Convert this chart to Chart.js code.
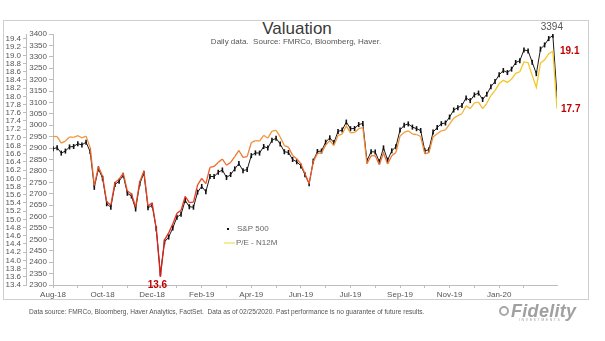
<!DOCTYPE html>
<html>
<head>
<meta charset="utf-8">
<title>Valuation</title>
<script src="https://cdn.jsdelivr.net/npm/chart.js@4.4.1/dist/chart.umd.min.js"></script>
<style>
  html, body { margin: 0; padding: 0; background: #fff; }
  body { width: 605px; height: 341px; position: relative; overflow: hidden;
         font-family: "Liberation Sans", Arial, sans-serif; }
  #frame { position: absolute; left: 3px; top: 20px; width: 586px; height: 280px;
           border: 1px solid #cfcfcf; box-sizing: border-box; }
  #chart { position: absolute; left: 0; top: 0; }
  .txt { position: absolute; white-space: pre; color: #555; }
  #title { left: 0; width: 594px; top: 20px; line-height: 18px; font-size: 17px;
           text-align: center; color: #3a3a3a; }
  #foot { left: 29px; top: 307px; line-height: 10px; font-size: 6.6px; }
  #logo { position: absolute; left: 497px; top: 301px; width: 100px; height: 24px; color: #a0a0a0; }
  #logo .ring { position: absolute; left: 2px; top: 5px; width: 10px; height: 10px;
                border: 2px solid #a8a8a8; border-radius: 50%; box-sizing: border-box; }
  #logo .name { position: absolute; left: 14px; top: 0; font-size: 18px; line-height: 20px;
                font-weight: bold; font-style: italic; letter-spacing: 0.3px; }
  #logo .sub { position: absolute; left: 22px; top: 17px; font-size: 3.5px; letter-spacing: 1.6px; }
</style>
</head>
<body>
<div id="frame"></div>
<div id="title" class="txt">Valuation</div>
<canvas id="chart" width="605" height="341"></canvas>
<div id="foot" class="txt">Data source: FMRCo, Bloomberg, Haver Analytics, FactSet.  Data as of 02/25/2020. Past performance is no guarantee of future results.</div>
<div id="logo"><div class="ring"></div><div class="name">Fidelity</div><div class="sub">INVESTMENTS</div></div>

<script>
// S&P 500 closes, sampled about every third trading day, 08/28/2018 - 02/25/2020
const spx = [
  2897, 2902, 2878, 2887, 2905, 2907, 2919, 2914, 2926, 2884,
  2728, 2809, 2768, 2656, 2641, 2740, 2755, 2781, 2702, 2690,
  2633, 2744, 2790, 2638, 2650, 2546, 2351, 2489, 2510, 2550,
  2597, 2610, 2671, 2643, 2641, 2707, 2732, 2709, 2776, 2775,
  2794, 2804, 2771, 2784, 2809, 2832, 2801, 2806, 2867, 2879,
  2878, 2907, 2900, 2934, 2943, 2918, 2884, 2881, 2850, 2840,
  2822, 2783, 2744, 2843, 2885, 2887, 2926, 2945, 2924, 2973,
  2979, 3014, 2985, 2986, 3003, 3008, 2845, 2884, 2883, 2840,
  2901, 2847, 2888, 2906, 2979, 3000, 3006, 2992, 2985, 2977,
  2888, 2893, 2970, 2990, 3007, 3010, 3036, 3067, 3077, 3087,
  3120, 3108, 3133, 3141, 3113, 3136, 3169, 3192, 3221, 3240,
  3231, 3246, 3275, 3283, 3330, 3326, 3276, 3226, 3334, 3352,
  3380, 3394, 3128
];

// forward 12-month P/E on the same days
const pe = [
  17.02, 17.02, 16.86, 16.91, 17.01, 17.00, 17.04, 16.99, 17.03, 16.75,
  15.83, 16.28, 16.05, 15.43, 15.35, 15.90, 15.98, 16.13, 15.69, 15.62,
  15.30, 15.92, 16.18, 15.33, 15.40, 14.77, 13.60, 14.50, 14.67, 14.89,
  15.15, 15.22, 15.56, 15.41, 15.42, 15.84, 16.00, 15.87, 16.27, 16.29,
  16.39, 16.47, 16.32, 16.39, 16.53, 16.68, 16.51, 16.53, 16.87, 16.92,
  16.91, 17.05, 16.98, 17.15, 17.17, 17.01, 16.80, 16.76, 16.56, 16.48,
  16.35, 16.11, 15.87, 16.40, 16.61, 16.62, 16.81, 16.92, 16.80, 17.05,
  17.08, 17.28, 17.11, 17.12, 17.21, 17.24, 16.36, 16.55, 16.55, 16.33,
  16.62, 16.35, 16.55, 16.63, 17.03, 17.12, 17.16, 17.08, 17.07, 17.02,
  16.60, 16.63, 17.01, 17.09, 17.16, 17.18, 17.32, 17.47, 17.53, 17.58,
  17.77, 17.70, 17.84, 17.86, 17.70, 17.83, 18.02, 18.14, 18.31, 18.39,
  18.34, 18.42, 18.56, 18.60, 18.84, 18.82, 18.51, 18.22, 18.81, 18.89,
  19.04, 19.10, 17.70
];

const xTickLabels = ['Aug-18', 'Oct-18', 'Dec-18', 'Feb-19', 'Apr-19', 'Jun-19', 'Jul-19', 'Sep-19', 'Nov-19', 'Jan-20'];
const spxTicks = [2300, 2350, 2400, 2450, 2500, 2550, 2600, 2650, 2700, 2750, 2800, 2850,
                  2900, 2950, 3000, 3050, 3100, 3150, 3200, 3250, 3300, 3350, 3400];
const peTicks = [13.4, 13.6, 13.8, 14.0, 14.2, 14.4, 14.6, 14.8, 15.0, 15.2, 15.4, 15.6, 15.8,
                 16.0, 16.2, 16.4, 16.6, 16.8, 17.0, 17.2, 17.4, 17.6, 17.8, 18.0, 18.2,
                 18.4, 18.6, 18.8, 19.0, 19.2, 19.4];

const subtitle = 'Daily data.  Source: FMRCo, Bloomberg, Haver.';

const STEP = 12;          // samples between month labels
const FONT = '"Liberation Sans", Arial, sans-serif';
const AXIS = '#bdbdbd';

// P/E line goes from red (cheap) through orange to yellow (rich)
const peStops = [
  [13.6, [222, 24, 28]], [15.5, [232, 56, 30]], [16.3, [238, 104, 42]],
  [17.0, [240, 150, 62]], [17.6, [242, 182, 56]], [18.3, [243, 200, 40]]
];
function peColor(v) {
  if (v <= peStops[0][0]) return 'rgb(' + peStops[0][1] + ')';
  for (let i = 1; i < peStops.length; i++) {
    const [v1, c1] = peStops[i];
    if (v <= v1) {
      const [v0, c0] = peStops[i - 1];
      const t = (v - v0) / (v1 - v0);
      const c = c0.map((a, k) => Math.round(a + (c1[k] - a) * t));
      return 'rgb(' + c + ')';
    }
  }
  return 'rgb(' + peStops[peStops.length - 1][1] + ')';
}

const spxPoints = spx.map((v, i) => ({ x: i, y: v }));
const pePoints = pe.map((v, i) => ({ x: i, y: v }));

// subtitle, value labels, legend inside the plot
const extras = {
  id: 'extras',
  afterDatasetsDraw(chart) {
    const { ctx, scales } = chart;
    const xs = scales.x, ys = scales.spx, yp = scales.pe;
    ctx.save();
    ctx.textBaseline = 'middle';

    ctx.font = '8px ' + FONT;
    ctx.fillStyle = '#555';
    ctx.textAlign = 'center';
    ctx.fillText(subtitle, 296, 42);

    const hi = spx.indexOf(Math.max(...spx));
    ctx.font = '10px ' + FONT;
    ctx.fillText(String(spx[hi]), xs.getPixelForValue(hi) - 1, ys.getPixelForValue(spx[hi]) - 8);

    ctx.font = 'bold 10px ' + FONT;
    ctx.fillStyle = '#c00000';
    const peHi = pe.indexOf(Math.max(...pe));
    const peLo = pe.indexOf(Math.min(...pe));
    const last = pe.length - 1;
    ctx.textAlign = 'left';
    ctx.fillText(pe[peHi].toFixed(1), xs.getPixelForValue(last) + 3, yp.getPixelForValue(pe[peHi]));
    ctx.fillText(pe[last].toFixed(1), xs.getPixelForValue(last) + 4, yp.getPixelForValue(pe[last]) + 1);
    ctx.textAlign = 'center';
    ctx.fillText(pe[peLo].toFixed(1), xs.getPixelForValue(peLo) - 3, yp.getPixelForValue(pe[peLo]) + 8);

    // legend
    const lx = 224, ly = 229;
    ctx.font = '8px ' + FONT;
    ctx.textAlign = 'left';
    ctx.fillStyle = '#111';
    ctx.fillRect(lx + 3, ly - 1, 2, 2);
    ctx.fillStyle = '#666';
    ctx.fillText(chart.data.datasets[1].label, lx + 13, ly);
    ctx.strokeStyle = '#f3dc55';
    ctx.lineWidth = 1.2;
    ctx.beginPath();
    ctx.moveTo(lx, ly + 14);
    ctx.lineTo(lx + 11, ly + 14);
    ctx.stroke();
    ctx.fillText(chart.data.datasets[0].label, lx + 12, ly + 14);
    ctx.restore();
  }
};

new Chart(document.getElementById('chart'), {
  type: 'line',
  data: {
    datasets: [
      {
        label: 'P/E - N12M',
        data: pePoints,
        yAxisID: 'pe',
        borderWidth: 1.3,
        pointRadius: 0,
        tension: 0,
        order: 0,
        segment: {
          borderColor: c => peColor((c.p0.parsed.y + c.p1.parsed.y) / 2)
        }
      },
      {
        label: 'S&P 500',
        data: spxPoints,
        yAxisID: 'spx',
        borderColor: '#1a1a1a',
        borderWidth: 1,
        pointStyle: 'line',
        rotation: 90,
        pointRadius: 2.5,
        pointBorderWidth: 1.6,
        pointBorderColor: '#111',
        tension: 0,
        order: 1
      }
    ]
  },
  options: {
    responsive: false,
    animation: false,
    devicePixelRatio: 1,
    layout: { padding: { left: 3, right: 48, top: 34, bottom: 40 } },
    plugins: { legend: { display: false }, tooltip: { enabled: false } },
    scales: {
      x: {
        type: 'linear',
        min: 0,
        max: spx.length - 1,
        afterBuildTicks: s => {
          const t = [];
          for (let v = 0; v <= s.max; v += STEP / 2) t.push({ value: v });
          s.ticks = t;
        },
        afterFit: s => { s.height = 16; },
        ticks: {
          autoSkip: false, maxRotation: 0, padding: 2, color: '#555',
          font: { family: FONT, size: 8 },
          callback: v => (v % STEP === 0 ? xTickLabels[v / STEP] : '')
        },
        grid: { drawOnChartArea: false, tickLength: 3, color: AXIS },
        border: { color: AXIS }
      },
      spx: {
        position: 'left',
        weight: 0,
        min: 2300,
        max: 3400,
        afterBuildTicks: s => { s.ticks = spxTicks.map(v => ({ value: v })); },
        afterFit: s => { s.width = 27; },
        ticks: {
          autoSkip: false, padding: 2, color: '#555', font: { family: FONT, size: 8 },
          callback: v => String(v)
        },
        grid: { drawOnChartArea: false, tickLength: 4, color: AXIS },
        border: { color: AXIS }
      },
      pe: {
        position: 'left',
        weight: 1,
        min: 13.4,
        max: 19.52,
        afterBuildTicks: s => { s.ticks = peTicks.map(v => ({ value: v })); },
        afterFit: s => { s.width = 23; },
        ticks: {
          autoSkip: false, padding: 2, color: '#555', font: { family: FONT, size: 8 },
          callback: v => v.toFixed(1)
        },
        grid: { drawOnChartArea: false, tickLength: 3, color: AXIS },
        border: { color: AXIS }
      }
    }
  },
  plugins: [extras]
});
</script>
</body>
</html>
